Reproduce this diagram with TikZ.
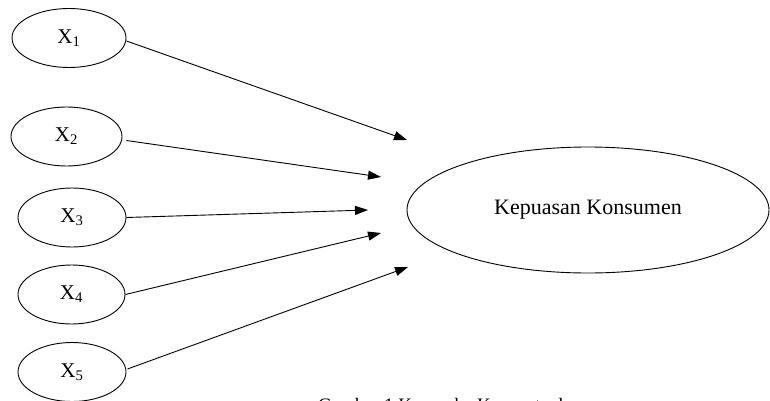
\documentclass[tikz,border=0pt]{standalone}
\usepackage{fontspec}
\setmainfont{Liberation Serif}
\usetikzlibrary{shapes.geometric,arrows.meta}
\begin{document}
\begin{tikzpicture}[x=1pt,y=-1pt,
  var/.style={ellipse,draw,line width=0.9pt,inner sep=0pt,
    minimum width=110pt,minimum height=59pt,font=\fontsize{21}{25}\selectfont},
  target/.style={ellipse,draw,line width=0.9pt,inner sep=0pt,
    minimum width=362pt,minimum height=126pt,font=\fontsize{22}{26}\selectfont},
  link/.style={line width=0.9pt,-{Triangle[length=13pt,width=9pt]}}]
\useasboundingbox (0,0) rectangle (770,401);
% independent variables
\node[var,minimum width=114pt] (x1) at (69,38)   {X\textsubscript{1}};
\node[var,minimum width=111pt] (x2) at (66.5,136.5) {X\textsubscript{2}};
\node[var,minimum width=108pt] (x3) at (72,217.5) {X\textsubscript{3}};
\node[var,minimum width=107pt] (x4) at (71.5,294.5) {X\textsubscript{4}};
\node[var,minimum width=108pt] (x5) at (72,372)  {X\textsubscript{5}};
% dependent variable
\node[target] (y) at (588,210) {Kepuasan Konsumen};
% arrow tips in front of the dependent variable
\coordinate (t1) at (407,140);
\coordinate (t2) at (381,177);
\coordinate (t3) at (368,210);
\coordinate (t4) at (381,233);
\coordinate (t5) at (408,267);
\draw[link] (x1.east) ++(0,3) -- (t1);
\draw[link] (x2.east) ++(4,4) -- (t2);
\draw[link] (x3.east) -- (t3);
\draw[link] (x4.east) -- (t4);
\draw[link] (x5.east) ++(1,-3) -- (t5);
% caption, running off the lower edge
\node[anchor=base west,inner sep=0pt,font=\fontsize{19}{23}\selectfont] (cap) at (318,411) {Gambar 1 Kerangka Konseptual};
\end{tikzpicture}
\end{document}
